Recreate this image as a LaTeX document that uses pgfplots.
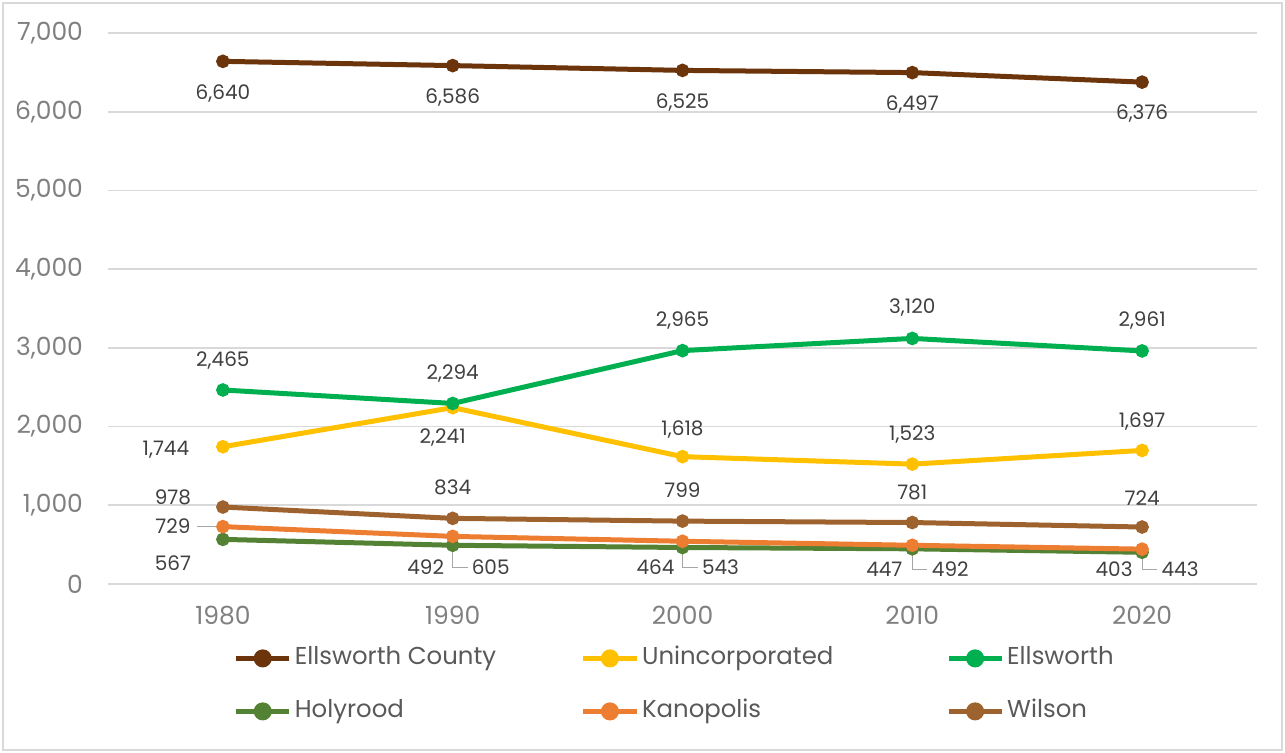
\documentclass[border=0pt]{standalone}
\usepackage{pgfplots}
\pgfplotsset{compat=1.18}
\usepackage{pgfplotstable}
\usepackage{fontspec}
\setmainfont{Poppins}

\definecolor{cCounty}{RGB}{108,52,10}
\definecolor{cUninc}{RGB}{255,192,0}
\definecolor{cEllsworth}{RGB}{0,176,80}
\definecolor{cHoly}{RGB}{84,130,53}
\definecolor{cKano}{RGB}{237,125,49}
\definecolor{cWilson}{RGB}{158,98,46}
\definecolor{gridgray}{RGB}{217,217,217}
\definecolor{tickgray}{RGB}{128,128,128}
\definecolor{labelgray}{RGB}{64,64,64}
\definecolor{legendgray}{RGB}{89,89,89}
\definecolor{leadergray}{RGB}{166,166,166}

% population by census year (idx 0..4 = 1980..2020); dx, dy place each value label (pt)
\pgfplotstableread{
idx val dx dy
0 6640 0 -16
1 6586 0 -16
2 6525 0 -16
3 6497 0 -16
4 6376 0 -15.5
}\tabCounty
\pgfplotstableread{
idx val dx dy
0 1744 -28.5 -1.5
1 2241 -5 -15
2 1618 0 13.5
3 1523 0 15
4 1697 0 14.5
}\tabUninc
\pgfplotstableread{
idx val dx dy
0 2465 0 14.5
1 2294 0 15
2 2965 0 15
3 3120 0 15.5
4 2961 0 15
}\tabEllsworth
\pgfplotstableread{
idx val dx dy
0 567 -25 -12
1 492 -13.5 -11
2 464 -13.5 -10
3 447 -14 -10
4 403 -14 -8.5
}\tabHoly
\pgfplotstableread{
idx val dx dy
0 729 -25 0
1 605 19 -15.5
2 543 19 -13
3 492 19 -12
4 443 19 -10
}\tabKano
\pgfplotstableread{
idx val dx dy
0 978 -25 5
1 834 0 15.5
2 799 0 15.5
3 781 0 15
4 724 0 14.5
}\tabWilson

\pgfkeys{/pgf/number format/.cd,fixed,1000 sep={,}}

\pgfplotsset{
  series/.style={line width=2.5pt, mark=*, mark size=2.1pt, mark options={solid}},
  vlab/.style={
    nodes near coords={\pgfmathprintnumber[assume math mode=true]{\pgfplotspointmeta}},
    point meta=explicit,
    visualization depends on={\thisrow{dx} \as \dx},
    visualization depends on={\thisrow{dy} \as \dy},
    nodes near coords style={anchor=center, xshift=\dx pt, yshift=\dy pt,
      font=\fontsize{10}{12}\selectfont, text=labelgray, inner sep=0pt}},
}

\begin{document}
\begin{tikzpicture}
\useasboundingbox (-54pt,-84pt) rectangle (588.5pt,292pt);
\draw[gridgray, line width=0.8pt] (-52.5pt,-83pt) rectangle (587pt,290.5pt);
\begin{axis}[
  at={(0,0)}, anchor=south west,
  width=574.5pt, height=275.5pt, scale only axis,
  xmin=-0.5, xmax=4.5, ymin=0, ymax=7000,
  xtick={0,1,2,3,4},
  xticklabels={1980,1990,2000,2010,2020},
  ytick={0,1000,...,7000},
  axis line style={draw=none},
  tick style={draw=none},
  ymajorgrids,
  grid style={gridgray, line width=0.8pt},
  clip=false,
  /pgf/number format/assume math mode=true,
  ticklabel style={font=\fontsize{12.5}{15}\selectfont, text=tickgray},
  yticklabel style={xshift=-9pt},
  xticklabel style={yshift=-7.5pt},
  legend columns=3,
  legend image code/.code={%
    \draw[#1] (0pt,0pt) -- (26.6pt,0pt);
    \fill[#1] (13.3pt,0pt) circle (3.25pt);},
  legend style={at={(0.109,-0.1125)}, anchor=north west, draw=none, fill=none,
    inner sep=0pt, row sep=14.5pt, column sep=0pt,
    font=\fontsize{12.2}{14}\selectfont, text=legendgray,
    nodes={inner sep=0pt, text height=9pt, text depth=3pt},
    /tikz/every odd column/.append style={column sep=1.5pt}},
  legend cell align=left,
]
\addplot[series, cCounty, vlab] table[x=idx, y=val, meta=val] {\tabCounty};
\addlegendentry{\makebox[143pt][l]{Ellsworth County}}
\addplot[series, cUninc, vlab] table[x=idx, y=val, meta=val] {\tabUninc};
\addlegendentry{\makebox[152pt][l]{Unincorporated}}
\addplot[series, cEllsworth, vlab] table[x=idx, y=val, meta=val] {\tabEllsworth};
\addlegendentry{Ellsworth}
\addplot[series, cHoly, vlab] table[x=idx, y=val, meta=val] {\tabHoly};
\addlegendentry{Holyrood}
\addplot[series, cKano, vlab] table[x=idx, y=val, meta=val] {\tabKano};
\addlegendentry{Kanopolis}
\addplot[series, cWilson, vlab] table[x=idx, y=val, meta=val] {\tabWilson};
\addlegendentry{Wilson}

% leader lines from the Kanopolis points to their value labels
\draw[leadergray, line width=0.6pt] ([xshift=-3.5pt]axis cs:0,729) -- ([xshift=-13pt]axis cs:0,729);
\draw[leadergray, line width=0.6pt] ([yshift=-3.5pt]axis cs:1,605) -- ([yshift=-15.5pt]axis cs:1,605) -- ([xshift=7.5pt, yshift=-15.5pt]axis cs:1,605);
\draw[leadergray, line width=0.6pt] ([yshift=-3.5pt]axis cs:2,543) -- ([yshift=-13pt]axis cs:2,543) -- ([xshift=7.5pt, yshift=-13pt]axis cs:2,543);
\draw[leadergray, line width=0.6pt] ([yshift=-3.5pt]axis cs:3,492) -- ([yshift=-12pt]axis cs:3,492) -- ([xshift=7.5pt, yshift=-12pt]axis cs:3,492);
\draw[leadergray, line width=0.6pt] ([yshift=-3.5pt]axis cs:4,443) -- ([yshift=-10pt]axis cs:4,443) -- ([xshift=7.5pt, yshift=-10pt]axis cs:4,443);
\end{axis}
\end{tikzpicture}
\end{document}
